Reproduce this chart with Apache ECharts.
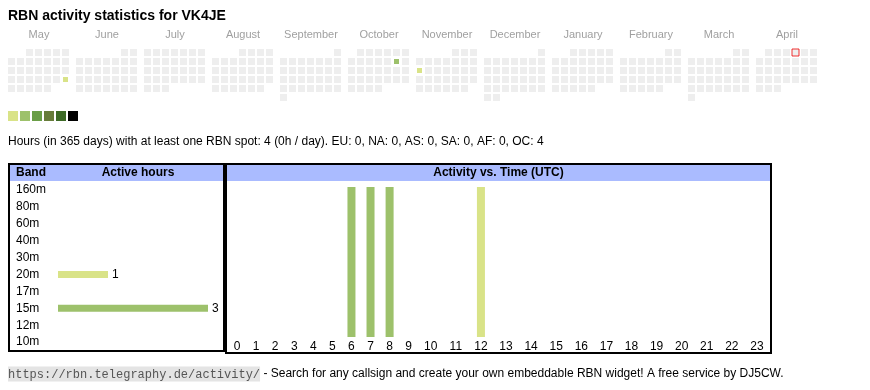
<!DOCTYPE html>
<html>
<head>
<meta charset="utf-8">
<script src="https://cdn.jsdelivr.net/npm/echarts@6/dist/echarts.min.js"></script>
<style>
html,body{margin:0;padding:0;background:#fff;}
#c{width:870px;height:390px;}
</style>
</head>
<body>
<div id="c"></div>
<script>
// ---- data ----
const callsign = 'VK4JE';
const monthNames = ['May','June','July','August','September','October','November','December','January','February','March','April'];
const monthRanges = ['2024-05','2024-06','2024-07','2024-08','2024-09','2024-10','2024-11','2024-12','2025-01','2025-02','2025-03','2025-04'];
const activeDays = ['2024-05-26','2024-10-12','2024-11-11'];
const activeDayHours = [1,2,1];
const todayDate = '2025-04-04';
const levelValues = [1,2,3,4,5,6];
const bands = ['160m','80m','60m','40m','30m','20m','17m','15m','12m','10m'];
const bandHours = [0,0,0,0,0,1,0,3,0,0];
const hourLabels = ['0','1','2','3','4','5','6','7','8','9','10','11','12','13','14','15','16','17','18','19','20','21','22','23'];
const activeHourList = [6,7,8,12];
const activeHourBand = ['15m','15m','15m','20m'];
const regions = ['EU','NA','AS','SA','AF','OC'];
const regionHours = [0,0,0,0,0,4];
const periodDays = 365;

// ---- styles ----
const levelColors = ['#d9e388','#9dc16b','#6a9e47','#677c3a','#3d6a26','#000000'];
const bandColor = {'20m':'#d9e388','15m':'#9dc16b'};
const FONT = '"Liberation Sans", Arial, Helvetica, sans-serif';
const MONO = '"Liberation Mono", "Courier New", monospace';

const chart = echarts.init(document.getElementById('c'), null, {renderer:'canvas'});

// calendars
const calendars = monthRanges.map((r, i) => ({
  orient: 'vertical',
  range: r,
  left: 7 + i * 68,
  top: 48,
  cellSize: [9, 9],
  splitLine: {show: false},
  itemStyle: {color: '#eeeeee', borderColor: '#ffffff', borderWidth: 2},
  dayLabel: {show: false, firstDay: 1},
  monthLabel: {show: false},
  yearLabel: {show: false}
}));

const heatSeries = monthRanges.map((r, i) => ({
  type: 'heatmap',
  coordinateSystem: 'calendar',
  calendarIndex: i,
  itemStyle: {borderColor: '#ffffff', borderWidth: 2},
  data: activeDays.map((d, k) => [d, activeDayHours[k]]).filter(p => p[0].slice(0, 7) === r)
}));

const todaySeries = {
  type: 'scatter',
  coordinateSystem: 'calendar',
  calendarIndex: monthRanges.indexOf(todayDate.slice(0, 7)),
  symbol: 'rect',
  symbolSize: 7,
  itemStyle: {color: '#eeeeee', borderColor: '#ee0000', borderWidth: 1},
  silent: true,
  data: [[todayDate, 1]]
};

// hour columns (table-like widths based on label length)
const colW = hourLabels.map(h => 13 + 6 * h.length);
const colStart = [];
let acc = 0;
colW.forEach(w => { colStart.push(acc); acc += w; });
const totalW = acc;
const colCenter = colW.map((w, i) => colStart[i] + w / 2);

const hourSeries = {
  type: 'bar',
  xAxisIndex: 1, yAxisIndex: 1,
  barWidth: 8,
  silent: true,
  data: activeHourList.map((h, k) => ({value: [colCenter[h], 1], itemStyle: {color: bandColor[activeHourBand[k]]}}))
};

const bandSeries = {
  type: 'bar',
  xAxisIndex: 0, yAxisIndex: 0,
  barWidth: 7,
  silent: true,
  label: {show: true, position: 'right', distance: 4, fontFamily: FONT, fontSize: 12, color: '#000',
          formatter: p => p.value > 0 ? String(p.value) : ''},
  data: bandHours.map((v, i) => ({value: v, itemStyle: {color: bandColor[bands[i]] || '#9dc16b'}}))
};

const totalHours = regionHours.reduce((a, b) => a + b, 0);
const statsText = 'Hours (in ' + periodDays + ' days) with at least one RBN spot: ' + totalHours +
  ' (' + Math.round(totalHours / periodDays) + 'h / day). ' +
  regions.map((r, i) => r + ': ' + regionHours[i]).join(', ');

const graphics = [
  {type: 'text', left: 8, top: 9, style: {text: 'RBN activity statistics for ' + callsign, font: 'bold 14px ' + FONT, fill: '#000'}},
  {type: 'text', left: 8, top: 136, style: {text: statsText, font: '12px ' + FONT, fill: '#000'}},
  // boxes
  {type: 'rect', shape: {x: 10, y: 165, width: 213, height: 16}, style: {fill: '#aabbff'}},
  {type: 'rect', shape: {x: 227, y: 165, width: 543, height: 16}, style: {fill: '#aabbff'}},
  {type: 'rect', shape: {x: 9, y: 164, width: 215, height: 187}, style: {fill: null, stroke: '#000', lineWidth: 2}},
  {type: 'rect', shape: {x: 226, y: 164, width: 545, height: 189}, style: {fill: null, stroke: '#000', lineWidth: 2}},
  {type: 'text', x: 16, y: 173, style: {text: 'Band', font: 'bold 12px ' + FONT, fill: '#000', verticalAlign: 'middle'}},
  {type: 'text', x: 138, y: 173, style: {text: 'Active hours', font: 'bold 12px ' + FONT, fill: '#000', align: 'center', verticalAlign: 'middle'}},
  {type: 'text', x: 498.5, y: 173, style: {text: 'Activity vs. Time (UTC)', font: 'bold 12px ' + FONT, fill: '#000', align: 'center', verticalAlign: 'middle'}},
  // footer
  {type: 'text', x: 8, y: 374, style: {
    text: '{u|https://rbn.telegraphy.de/activity/}{t| - Search for any callsign and create your own embeddable RBN widget! A free service by DJ5CW.}',
    verticalAlign: 'middle',
    rich: {
      u: {fontFamily: MONO, fontSize: 12, fill: '#555', backgroundColor: '#e4e4e4', padding: [2, 0, 1, 0]},
      t: {fontFamily: FONT, fontSize: 12, fill: '#000'}
    }
  }}
].concat(monthNames.map((m, i) => ({
  type: 'text', x: 39 + i * 68, y: 35,
  style: {text: m, font: '11px ' + FONT, fill: '#a0a0a0', align: 'center', verticalAlign: 'middle'}
})));

const option = {
  animation: false,
  backgroundColor: '#ffffff',
  textStyle: {fontFamily: FONT},
  calendar: calendars,
  visualMap: {
    type: 'piecewise',
    seriesIndex: heatSeries.map((s, i) => i),
    orient: 'horizontal',
    left: 8, top: 111,
    padding: 0,
    itemWidth: 10, itemHeight: 10, itemGap: 2,
    itemSymbol: 'rect',
    showLabel: false,
    selectedMode: false,
    pieces: levelValues.map((v, i) => ({value: v, color: levelColors[i]}))
  },
  grid: [
    {left: 58, top: 181.55, width: 150, height: 169, containLabel: false},
    {left: 227.5, top: 187, width: 542, height: 150, containLabel: false}
  ],
  xAxis: [
    {type: 'value', gridIndex: 0, min: 0, max: Math.max.apply(null, bandHours), show: false},
    {type: 'value', gridIndex: 1, min: 0, max: totalW,
     axisLine: {show: false}, axisTick: {show: false}, splitLine: {show: false},
     axisLabel: {customValues: colCenter, margin: 4, fontFamily: FONT, fontSize: 12, color: '#000',
       formatter: v => {
         let best = 0, bd = Infinity;
         colCenter.forEach((c, i) => { const d = Math.abs(c - v); if (d < bd) { bd = d; best = i; } });
         return hourLabels[best];
       }}}
  ],
  yAxis: [
    {type: 'category', gridIndex: 0, data: bands, inverse: true,
     axisLine: {show: false}, axisTick: {show: false}, splitLine: {show: false},
     axisLabel: {align: 'left', margin: 42, fontFamily: FONT, fontSize: 12, color: '#000'}},
    {type: 'value', gridIndex: 1, min: 0, max: 1, show: false}
  ],
  graphic: graphics,
  series: heatSeries.concat([todaySeries, bandSeries, hourSeries])
};
chart.setOption(option);
</script>
</body>
</html>
